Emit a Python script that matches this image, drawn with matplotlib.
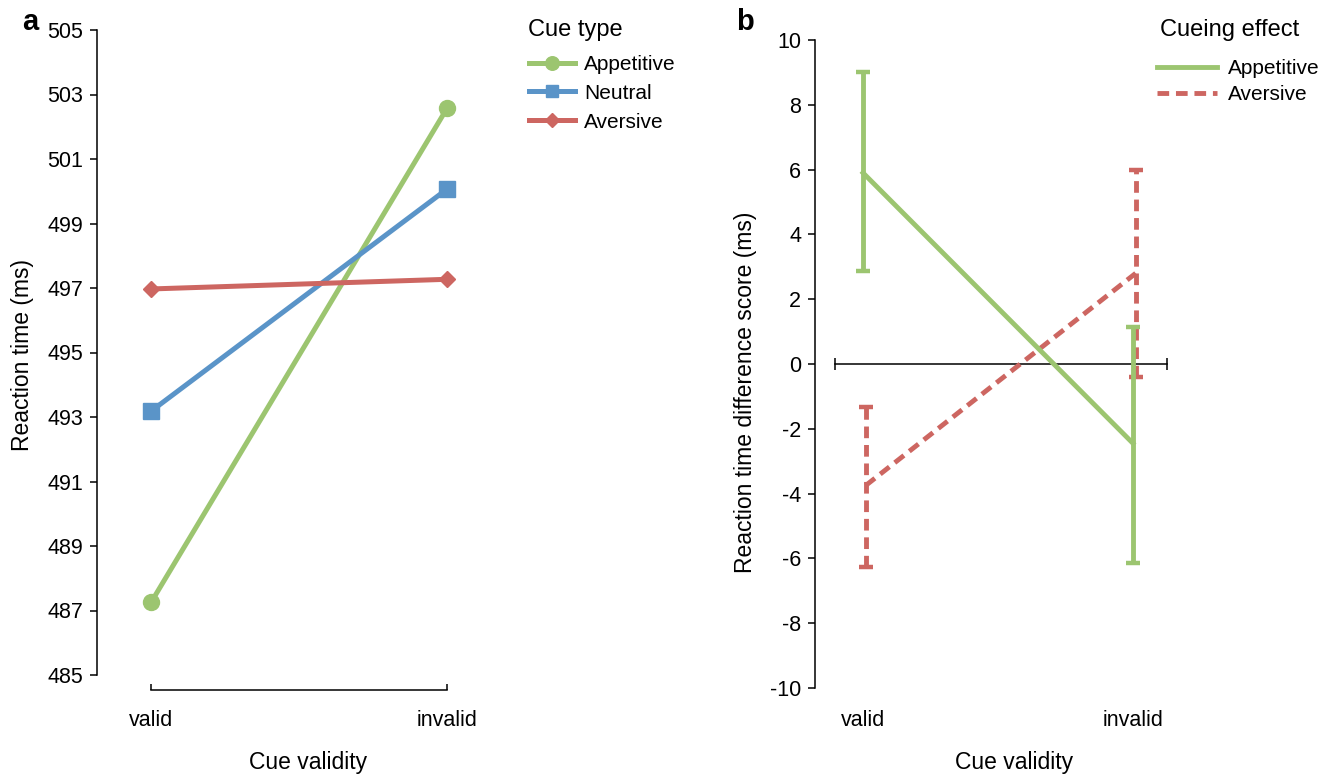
import matplotlib
matplotlib.use('Agg')
import matplotlib.pyplot as plt
from matplotlib.lines import Line2D

plt.rcParams['font.family'] = ['Liberation Sans', 'DejaVu Sans']
plt.rcParams['axes.unicode_minus'] = False

# data
conditions = ['valid', 'invalid']
cue_types = ['Appetitive', 'Neutral', 'Aversive']
rt_appetitive = [487.25, 502.58]
rt_neutral = [493.18, 500.07]
rt_aversive = [496.97, 497.27]

effect_names = ['Appetitive', 'Aversive']
eff_appetitive = [5.9, -2.45]
eff_appetitive_lo = [2.87, -6.14]
eff_appetitive_hi = [9.01, 1.13]
eff_aversive = [-3.75, 2.8]
eff_aversive_lo = [-6.28, -0.40]
eff_aversive_hi = [-1.32, 6.0]

green = '#9cc570'
blue = '#5a94c8'
red = '#cd6661'

W, H = 1336, 775
fig = plt.figure(figsize=(W / 100, H / 100), dpi=100)


def fx(x):
    return x / W


def fy(y):
    return 1 - y / H


# ---- panel a ----
ax1 = fig.add_axes([fx(97), fy(675), 409.4 / W, 645 / H])
x = [0, 1]
ax1.plot(x, rt_appetitive, color=green, lw=3.6, marker='o', ms=11.5, label=cue_types[0], zorder=3)
ax1.plot(x, rt_neutral, color=blue, lw=3.6, marker='s', ms=11, label=cue_types[1], zorder=3)
ax1.plot(x, rt_aversive, color=red, lw=3.6, marker='D', ms=8.5, label=cue_types[2], zorder=3)
ax1.set_xlim(-0.1824, 1.2)
ax1.set_ylim(485, 505)
ax1.set_yticks(range(485, 506, 2))
ax1.set_xticks(x)
ax1.set_xticklabels(conditions)
for s in ['top', 'right']:
    ax1.spines[s].set_visible(False)
ax1.spines['bottom'].set_position(('outward', 11))
ax1.spines['bottom'].set_bounds(0, 1)
for s in ['left', 'bottom']:
    ax1.spines[s].set_linewidth(1.1)
ax1.tick_params(axis='y', direction='out', length=5, width=1.1, labelsize=15.5, pad=5)
ax1.tick_params(axis='x', direction='in', length=4, width=1.1, labelsize=15.5, pad=14)
fig.text(fx(22), fy(355), 'Reaction time (ms)', rotation=90, ha='center', va='center', fontsize=16.5)
fig.text(fx(308), fy(762), 'Cue validity', ha='center', va='center', fontsize=16.5)

ax1.legend(loc='upper left', bbox_to_anchor=(fx(529), fy(55)), bbox_transform=fig.transFigure,
           frameon=False, fontsize=15, handlelength=2.2, handletextpad=0.45, labelspacing=0.47,
           borderpad=0, borderaxespad=0, markerscale=0.85)
fig.text(fx(528), fy(30), 'Cue type', ha='left', va='center', fontsize=17)

# ---- panel b ----
ax2 = fig.add_axes([fx(815), fy(688), 399 / W, 648 / H])
ax2.plot([-0.104, 1.126], [0, 0], color='black', lw=1.1, marker='|', ms=8, mew=1.1, zorder=1)

dash = (0, (2.4, 1.4))
ax2.errorbar(x, eff_appetitive,
             yerr=[[m - lo for m, lo in zip(eff_appetitive, eff_appetitive_lo)],
                   [hi - m for m, hi in zip(eff_appetitive, eff_appetitive_hi)]],
             color=green, lw=3.5, elinewidth=3.5, capsize=4.8, capthick=3.2, zorder=3)
e2 = ax2.errorbar([xi + 0.01 for xi in x], eff_aversive,
                  yerr=[[m - lo for m, lo in zip(eff_aversive, eff_aversive_lo)],
                        [hi - m for m, hi in zip(eff_aversive, eff_aversive_hi)]],
                  color=red, lw=3.5, elinewidth=3.5, capsize=4.8, capthick=3.2, zorder=2)
e2[0].set_linestyle(dash)
e2[2][0].set_linestyle(dash)

ax2.set_xlim(-0.1778, 1.3)
ax2.set_ylim(-10, 10)
ax2.set_yticks(range(-10, 11, 2))
ax2.set_xticks(x)
ax2.set_xticklabels(conditions)
for s in ['top', 'right', 'bottom']:
    ax2.spines[s].set_visible(False)
ax2.spines['left'].set_linewidth(1.1)
ax2.tick_params(axis='y', direction='out', length=5, width=1.1, labelsize=15.5, pad=5)
ax2.tick_params(axis='x', length=0, labelsize=15.5, pad=16)
fig.text(fx(745), fy(392), 'Reaction time difference score (ms)', rotation=90, ha='center', va='center', fontsize=16.5)
fig.text(fx(1014), fy(762), 'Cue validity', ha='center', va='center', fontsize=16.5)

handles = [Line2D([], [], color=green, lw=3.5),
           Line2D([], [], color=red, lw=3.5, linestyle=dash)]
ax2.legend(handles, effect_names, loc='upper left', bbox_to_anchor=(fx(1157), fy(59)),
           bbox_transform=fig.transFigure, frameon=False, fontsize=15,
           handlelength=2.9, handletextpad=0.5, labelspacing=0.33,
           borderpad=0, borderaxespad=0)
fig.text(fx(1160), fy(30), 'Cueing effect', ha='left', va='center', fontsize=17)

fig.text(fx(30), fy(22), 'a', fontsize=21, fontweight='bold', ha='center', va='center')
fig.text(fx(745), fy(22), 'b', fontsize=21, fontweight='bold', ha='center', va='center')

fig.savefig('out.png', dpi=100)
